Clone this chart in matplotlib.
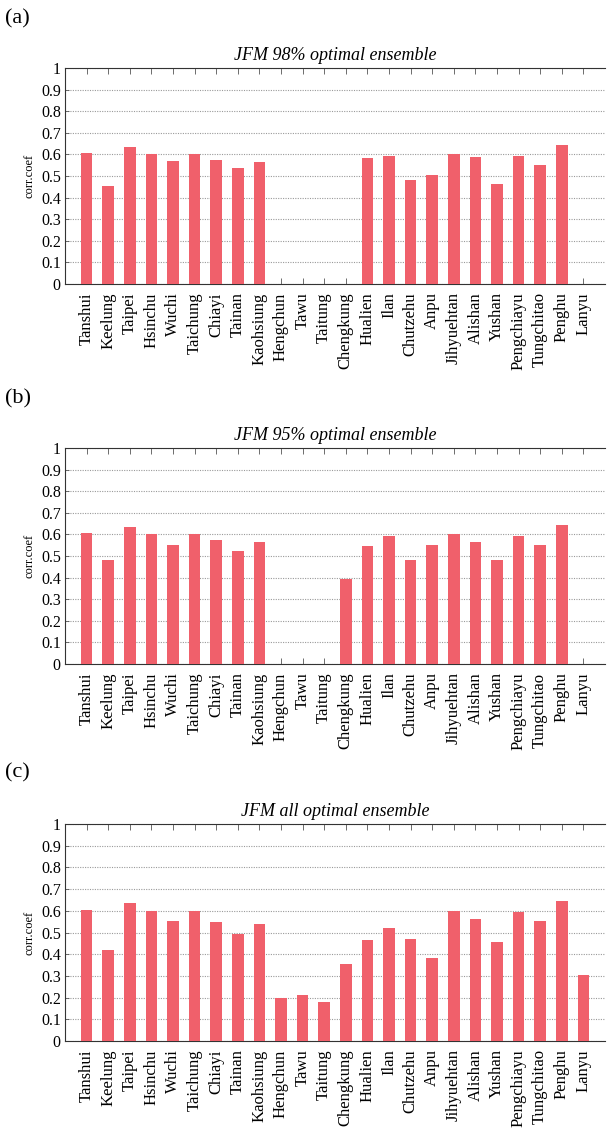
import numpy as np
import matplotlib
matplotlib.use("Agg")
import matplotlib.pyplot as plt

plt.rcParams["font.family"] = ["Liberation Serif", "DejaVu Serif"]

# station names along the x axis
stations = [
    "Tanshui", "Keelung", "Taipei", "Hsinchu", "Wuchi", "Taichung", "Chiayi",
    "Tainan", "Kaohsiung", "Hengchun", "Tawu", "Taitung", "Chengkung",
    "Hualien", "Ilan", "Chutzehu", "Anpu", "Jihyuehtan", "Alishan", "Yushan",
    "Pengchiayu", "Tungchitao", "Penghu", "Lanyu",
]

nan = np.nan
# correlation coefficients per station (nan = no bar)
corr_98 = [0.605, 0.455, 0.635, 0.60, 0.57, 0.60, 0.575, 0.535, 0.563,
           nan, nan, nan, nan,
           0.582, 0.593, 0.483, 0.505, 0.60, 0.587, 0.463, 0.595, 0.553, 0.643,
           nan]
corr_95 = [0.605, 0.483, 0.635, 0.60, 0.553, 0.60, 0.575, 0.525, 0.563,
           nan, nan, nan, 0.395,
           0.548, 0.593, 0.483, 0.55, 0.60, 0.563, 0.48, 0.595, 0.553, 0.643,
           nan]
corr_all = [0.605, 0.42, 0.635, 0.60, 0.552, 0.60, 0.547, 0.495, 0.54,
            0.20, 0.21, 0.18, 0.355,
            0.466, 0.523, 0.47, 0.383, 0.60, 0.562, 0.458, 0.595, 0.552, 0.643,
            0.306]

panels = [
    ("(a)", "JFM 98% optimal ensemble", corr_98),
    ("(b)", "JFM 95% optimal ensemble", corr_95),
    ("(c)", "JFM all optimal ensemble", corr_all),
]

# axes boxes [left, bottom, width, height] in figure fraction
boxes = [
    [0.1071, 0.7482, 0.8896, 0.1915],
    [0.1071, 0.4113, 0.8896, 0.1915],
    [0.1071, 0.0771, 0.8896, 0.1924],
]
letter_y = [0.992, 0.655, 0.323]

BAR_COLOR = "#F0606B"

fig = plt.figure(figsize=(6.07, 11.28), dpi=100)

for (letter, title, vals), box, ly in zip(panels, boxes, letter_y):
    ax = fig.add_axes(box)
    x = np.arange(1, len(stations) + 1)
    ax.bar(x, np.nan_to_num(vals), width=0.54, color=BAR_COLOR, zorder=3)

    ax.set_xlim(0, len(stations) + 1)
    ax.set_ylim(0, 1)
    ax.set_yticks(np.arange(0, 1.01, 0.1))
    ax.set_yticklabels(["0"] + [f"{v:.1f}" for v in np.arange(0.1, 0.95, 0.1)] + ["1"])
    ax.set_xticks(x)
    ax.set_xticklabels(stations, rotation=90)

    ax.grid(axis="y", color="#9a9a9a", linestyle=(0, (1, 1.2)), linewidth=0.8, zorder=0)
    ax.tick_params(axis="x", direction="in", top=True, length=4, width=0.6,
                   labelsize=12, pad=6, color="#555555")
    ax.tick_params(axis="y", direction="in", length=3, width=0.6, labelsize=11.5,
                   pad=3, color="#555555")
    for s in ax.spines.values():
        s.set_linewidth(0.8)
        s.set_color("#333333")
    ax.spines["right"].set_visible(False)

    ax.set_title(title, style="italic", fontsize=13, pad=6)
    ax.set_ylabel("corr.coef", fontsize=9, labelpad=4)

    fig.text(0.008, ly, letter, fontsize=16, va="top", ha="left")

plt.savefig("out.png", dpi=100)
